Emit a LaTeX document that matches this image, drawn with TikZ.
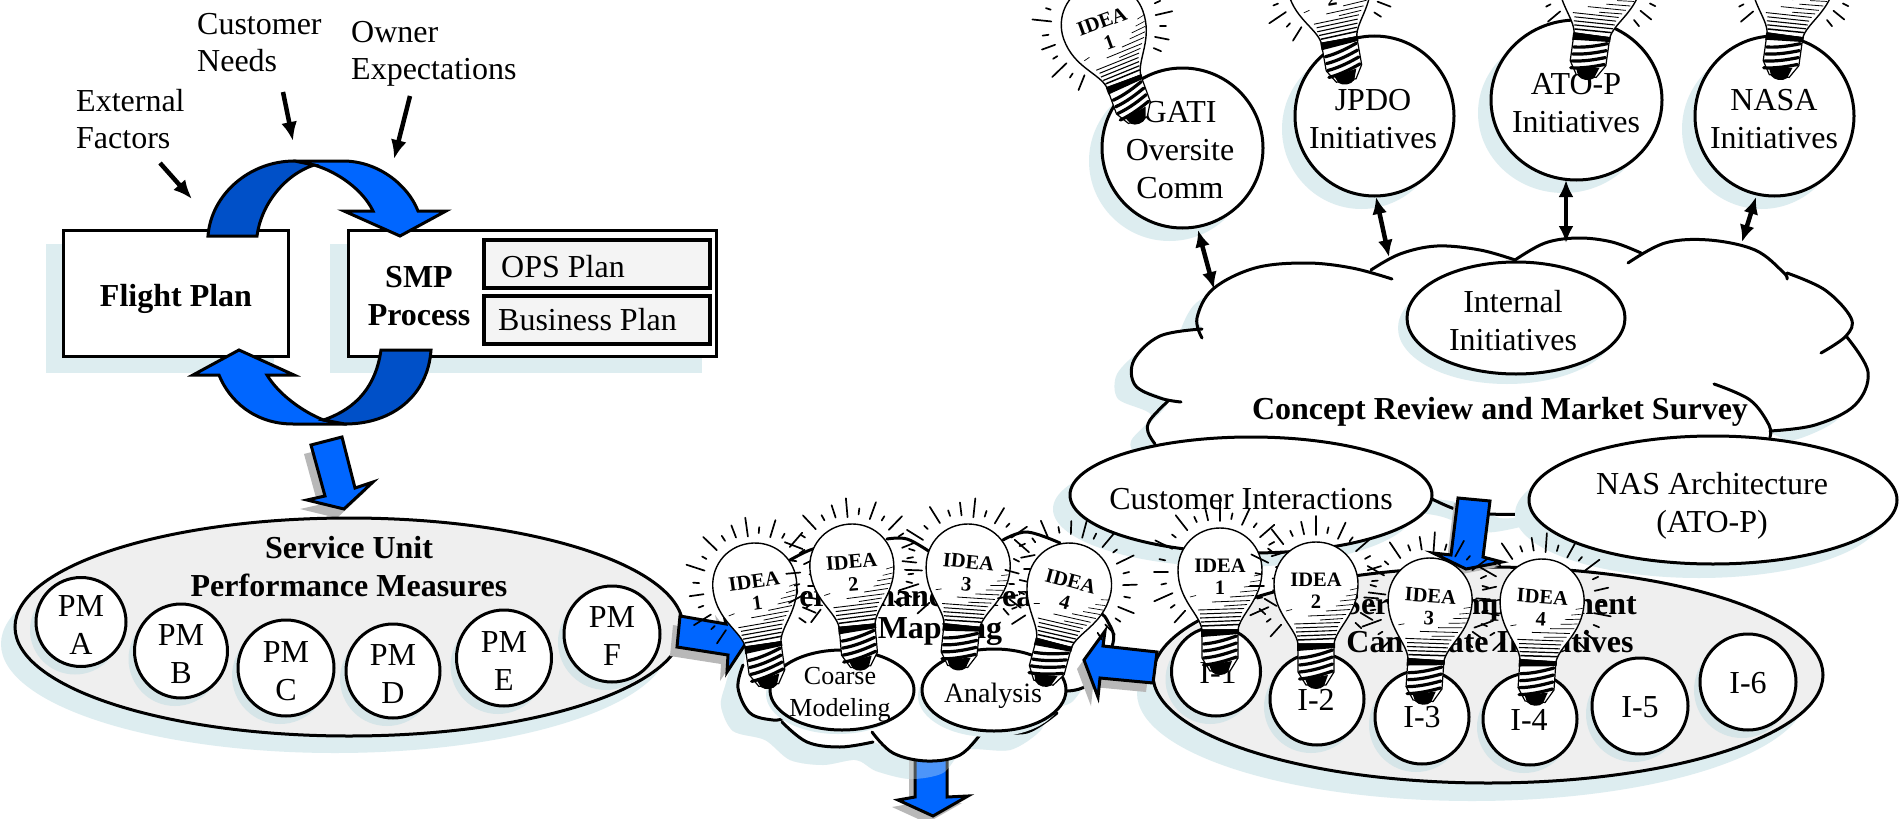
\documentclass[tikz,border=0pt]{standalone}
\usepackage{fontspec}
\setmainfont{Liberation Serif}
\usetikzlibrary{shapes.geometric,arrows.meta}
\definecolor{shadowc}{HTML}{DDEDF0}
\definecolor{shadowd}{HTML}{D6E5E8}
\definecolor{grayfill}{HTML}{EFEFEF}
\definecolor{planfill}{HTML}{F4F4F4}
\definecolor{brightb}{HTML}{0066FF}
\definecolor{darkb}{HTML}{0050C8}
\definecolor{arrowsh}{HTML}{B8B8B8}
\tikzset{
  ell/.style={ellipse,draw=black,line width=3pt,inner sep=0pt,outer sep=0pt},
  txt/.style={align=center,inner sep=0pt,font=\fontsize{32}{38}\selectfont},
  btxt/.style={align=center,inner sep=0pt,font=\fontsize{32}{38}\selectfont\bfseries},
  ltxt/.style={align=left,inner sep=0pt,anchor=west,font=\fontsize{32}{37}\selectfont},
  sbox/.style={draw=black,line width=3pt,fill=white},
  pbox/.style={draw=black,line width=3.5pt,fill=planfill},
  thin/.style={line width=4.5pt,-{Latex[length=19pt,width=16pt]}},
  both/.style={line width=4.5pt,{Latex[length=17pt,width=15pt]}-{Latex[length=17pt,width=15pt]}},
  cloudline/.style={line width=3pt,line cap=round},
  blue/.style={draw=black,line width=3pt,line join=miter,fill=brightb},
  dblue/.style={draw=black,line width=3pt,line join=miter,fill=darkb},
}
% name, x, y, rx, ry, shadow dx, shadow dy, fill, shadow colour
\newcommand\ellnode[9]{%
  \fill[#9,shift={(#6,#7)}] (#2,#3) ellipse [x radius=#4pt,y radius=#5pt];
  \node[ell,fill=#8,minimum width=2*#4,minimum height=2*#5] (#1) at (#2,#3) {};
}
% name, x, y, rotation, number
\newcommand\bulb[5]{%
  \begin{scope}[shift={(#2,#3)},rotate=#4,transform shape]
    \foreach \a/\r/\s in {-228/52/68,-216/56/61,-204/52/72,-192/55/60,-180/52/66,-168/56/62,-154/53/72,-142/56/61,-128/53/72,-115/55/61,-103/53/66,-90/51/70,-78/54/60,-65/52/70,-53/56/61,-41/53/72,-29/56/62,-17/54/68,-5/56/62,7/53/70,19/56/62,31/52/66,43/54/62}
      \draw[line width=1.7pt,line cap=round] (\a:\r) -- (\a:\s);
    \draw[line width=1.4pt,fill=white] (-18,58) .. controls (-20,42) and (-42,28) .. (-42,-2) .. controls (-42,-25) and (-24,-44) .. (0,-44) .. controls (24,-44) and (42,-25) .. (42,-2) .. controls (42,28) and (20,42) .. (18,58) -- cycle;
    \foreach \yy/\xa/\xb/\w in {4/34/41/.6,10/30/40/.6,15/24/39/.7,20/20/37/.7,25/10/34/.8,30/-8/30/.8,34/4/27/.8,38/-22/24/.9,42/-20/22/1,46/-20/21/1.1,50/-19/20/1.2,54/-18/19/1.5,25/-30/-24/.7}
      \draw[line width=\w pt] (\xa,\yy) -- (\xb,\yy-1.5);
    \draw[line width=1.2pt,fill=white] (-18,58) -- (18,58) -- (18,86) -- (10,99) -- (-10,99) -- (-18,86) -- cycle;
    \fill (-19,58) -- (19,57) -- (19,62) -- (-19,65) -- cycle;
    \foreach \yy in {68,75,82,89}
      \draw[line width=3.2pt,line cap=round] (-16.5,\yy+4) .. controls (-4,\yy+3) and (8,\yy-1) .. (16.5,\yy-4);
    \fill (-11,93) -- (12,89) -- (8,100) .. controls (4,104) and (-4,104) .. (-8,100) -- cycle;
    \node[inner sep=0pt,font=\fontsize{20.5}{24}\selectfont\bfseries] (#1-a) at (0,-6) {IDEA};
    \node[inner sep=0pt,font=\fontsize{20.5}{24}\selectfont\bfseries] (#1-b) at (0,16) {#5};
  \end{scope}
}
\newcommand\bigcloud{plot[smooth cycle,tension=.5] coordinates {(1213,289) (1255,268) (1306,263) (1362,272) (1400,254) (1437,246) (1480,250) (1515,260) (1545,243) (1578,238) (1612,242) (1641,253) (1665,243) (1709,240) (1755,250) (1787,274) (1825,290) (1850,315) (1846,336) (1868,372) (1855,405) (1815,425) (1770,431) (1770,450) (1533,514) (1487,514) (1432,499) (1200,500) (1155,444) (1148,427) (1168,401) (1135,385) (1134,360) (1160,336) (1200,329) (1197,318)}}
\newcommand\midcloud{plot[smooth cycle,tension=.5] coordinates {(790,560) (830,545) (887,539) (930,552) (1003,540) (1027,532) (1060,543) (1100,613) (1113,643) (1090,683) (1067,691) (1057,713) (1027,732) (982,732) (960,755) (927,761) (893,753) (873,742) (840,747) (807,742) (782,722) (750,713) (738,688) (743,665) (760,610)}}
\begin{document}
\begin{tikzpicture}[x=1pt,y=-1pt]
\useasboundingbox (0,0) rectangle (1899,819);
\fill[white] (0,0) rectangle (1899,819);
% ---- flight plan / SMP
\fill[shadowc] (46,244) rectangle (274,373);
\fill[shadowc] (330,244) rectangle (702,373);
\node[sbox,minimum width=224.5,minimum height=126,inner sep=0pt,outer sep=0pt] (flight) at (176,293) {};
\node[btxt] (flightt) at (176,299) {Flight Plan};
\node[sbox,minimum width=368,minimum height=126,inner sep=0pt,outer sep=0pt] (smp) at (532,293) {};
\node[btxt] (smpt) at (419,296) {SMP\\Process};
\node[pbox,minimum width=226,minimum height=48,inner sep=0pt,outer sep=0pt] (ops) at (597,264) {};
\node[ltxt] (opst) at (501,267) {OPS Plan};
\node[pbox,minimum width=226,minimum height=48,inner sep=0pt,outer sep=0pt] (biz) at (597,320) {};
\node[ltxt] (bizt) at (498,320) {Business Plan};
% curved arrows
\draw[blue] (293,161) -- (343,161) .. controls (378,161) and (408,185) .. (418,211) -- (446,211) -- (400,236) -- (344,211) -- (373,211) .. controls (363,190) and (338,172) .. (314,165) -- cycle;
\draw[dblue] (208,236) .. controls (211,195) and (249,161) .. (294.5,161) -- (314,165) .. controls (284,175) and (261,205) .. (257,236) -- cycle;
\draw[blue] (347,424) -- (293,424) .. controls (254,424) and (229,400) .. (219,375) -- (193,375) -- (239,350) -- (294,375) -- (267,375) .. controls (279,395) and (303.5,412) .. (323.5,420) -- cycle;
\draw[dblue] (381,350) -- (431,350) .. controls (428,395) and (393,424) .. (345,424) -- (323.5,420) .. controls (358,408) and (376,385) .. (381,350) -- cycle;
% labels
\node[ltxt] (ext) at (76,119) {External\\Factors};
\node[ltxt] (cust) at (197,43) {Customer\\Needs};
\node[ltxt] (own) at (351,54) {Owner\\Expectations};
\coordinate (ext1) at (160,163); \coordinate (ext2) at (192,199);
\coordinate (cus1) at (283,92); \coordinate (cus2) at (293,141);
\coordinate (own1) at (410,96); \coordinate (own2) at (394,159);
\draw[thin] (ext1) -- (ext2);
\draw[thin] (cus1) -- (cus2);
\draw[thin] (own1) -- (own2);
% arrow to service unit
\fill[arrowsh] (304,454) -- (335,446) -- (348,497) -- (366,491) -- (337,518) -- (300,509) -- (318,505) -- cycle;
\draw[blue] (311,445) -- (342,437) -- (355,488) -- (373,482) -- (344,509) -- (307,500) -- (325,496) -- cycle;
% ---- service unit
\ellnode{service}{349}{627}{334}{109}{-14}{17}{grayfill}{shadowc}
\node[btxt] (servicet) at (349,566.5) {Service Unit\\Performance Measures};
\ellnode{pma}{81}{622}{45}{44.5}{-6}{8}{white}{shadowd}
\node[txt] (pmat) at (81,625) {PM\\A};
\ellnode{pmb}{181}{651}{46.5}{47}{-6}{8}{white}{shadowd}
\node[txt] (pmbt) at (181,654) {PM\\B};
\ellnode{pmc}{286}{668}{48}{48}{-6}{8}{white}{shadowd}
\node[txt] (pmct) at (286,671) {PM\\C};
\ellnode{pmd}{393}{671}{47}{47}{-6}{8}{white}{shadowd}
\node[txt] (pmdt) at (393,674) {PM\\D};
\ellnode{pme}{504}{658}{47.5}{48}{-6}{8}{white}{shadowd}
\node[txt] (pmet) at (504,661) {PM\\E};
\ellnode{pmf}{612}{634}{48}{48}{-6}{8}{white}{shadowd}
\node[txt] (pmft) at (612,636) {PM\\F};
% ---- big cloud
\fill[shadowc,shift={(-17,14)}] \bigcloud;
\fill[white] \bigcloud;
\draw[cloudline] plot[smooth,tension=.6] coordinates {(1202,338) (1197,318) (1213,289) (1255,268) (1306,263) (1352,268) (1392,279)};
\draw[cloudline] plot[smooth,tension=.6] coordinates {(1371,270) (1400,254) (1437,246) (1480,250) (1515,260)};
\draw[cloudline] plot[smooth,tension=.6] coordinates {(1515,260) (1545,243) (1578,238) (1612,242) (1641,253)};
\draw[cloudline] plot[smooth,tension=.6] coordinates {(1628,263) (1665,243) (1709,240) (1755,250) (1783,272) (1787,279)};
\draw[cloudline] plot[smooth,tension=.6] coordinates {(1787,273) (1825,290) (1851,318) (1846,336) (1821,353)};
\draw[cloudline] plot[smooth,tension=.6] coordinates {(1846,336) (1868,372) (1855,405) (1815,425) (1770,431)};
\draw[cloudline] plot[smooth,tension=.6] coordinates {(1714,384) (1750,400) (1769,425) (1770,437)};
\draw[cloudline] plot[smooth,tension=.6] coordinates {(1202,329) (1160,336) (1134,360) (1135,385) (1160,398) (1181,402)};
\draw[cloudline] plot[smooth,tension=.6] coordinates {(1168,401) (1150,420) (1148,432) (1155,444)};
\draw[cloudline] plot[smooth,tension=.6] coordinates {(1432,499) (1458,510) (1487,514) (1533,514)};
\node[btxt] (concept) at (1500,412) {Concept Review and Market Survey};
\ellnode{internal}{1516}{318}{109}{56}{-9}{10}{white}{shadowc}
\node[txt] (internalt) at (1513,321) {Internal\\Initiatives};
\ellnode{gati}{1182.5}{148}{80.5}{80}{-13}{13}{white}{shadowc}
\node[txt] (gatit) at (1180,150) {GATI\\Oversite\\Comm};
\ellnode{jpdo}{1374.5}{116}{79.5}{80}{-13}{13}{white}{shadowc}
\node[txt] (jpdot) at (1373,119) {JPDO\\Initiatives};
\ellnode{atop}{1576.5}{100}{85.5}{80}{-13}{13}{white}{shadowc}
\node[txt] (atopt) at (1576,103) {ATO-P\\Initiatives};
\ellnode{nasa}{1774.5}{116}{79.5}{80}{-13}{13}{white}{shadowc}
\node[txt] (nasat) at (1774,119) {NASA\\Initiatives};
\coordinate (cg) at (1214,289); \coordinate (cj) at (1389,257);
\coordinate (ca) at (1566,243); \coordinate (cn) at (1742,242);
\coordinate (g0) at (1198,230); \coordinate (j0) at (1376,197);
\coordinate (a0) at (1566,180); \coordinate (n0) at (1756,197);
\draw[both] (g0) -- (cg);
\draw[both] (j0) -- (cj);
\draw[both] (a0) -- (ca);
\draw[both] (n0) -- (cn);
\ellnode{customer}{1251}{495}{181}{58}{-17}{14}{white}{shadowc}
\node[txt] (customert) at (1251,499) {Customer Interactions};
\ellnode{nas}{1713}{500}{184}{64}{-14}{14}{white}{shadowc}
\node[txt] (nast) at (1712,506) {NAS Architecture\\(ATO-P)};
% ---- candidate initiatives
\ellnode{cand}{1488}{675}{335}{108}{-16}{18}{grayfill}{shadowc}
\node[btxt] (candt) at (1490,622.5) {Service Improvement\\Candidate Initiatives};
\ellnode{ia}{1216}{671.5}{44.5}{44.5}{-6}{8}{white}{shadowd}
\node[txt] (iat) at (1218,673) {I-1};
\ellnode{ib}{1317}{699}{47}{46}{-6}{8}{white}{shadowd}
\node[txt] (ibt) at (1316,700) {I-2};
\ellnode{ic}{1422}{717}{47}{47}{-6}{8}{white}{shadowd}
\node[txt] (ict) at (1422,717) {I-3};
\ellnode{id}{1530}{719}{47}{46}{-6}{8}{white}{shadowd}
\node[txt] (idt) at (1529,720) {I-4};
\ellnode{ie}{1640}{706}{48}{48}{-6}{8}{white}{shadowd}
\node[txt] (iet) at (1640,707) {I-5};
\ellnode{if}{1748}{682}{48}{48}{-6}{8}{white}{shadowd}
\node[txt] (ift) at (1748,683) {I-6};
% arrow from big cloud to candidates
\fill[arrowsh] (1454,503) -- (1486,506) -- (1479,562) -- (1498,567) -- (1462,574) -- (1429,558) -- (1447,560) -- cycle;
\draw[blue] (1458,498) -- (1490,501) -- (1483,557) -- (1502,562) -- (1466,569) -- (1433,553) -- (1451,555) -- cycle;
% ---- middle cloud
\fill[shadowc,shift={(-17,18)}] \midcloud;
\fill[arrowsh] (909,752) -- (941,752) -- (941,804) -- (962,803) -- (927,823) -- (892,807) -- (909,804) -- cycle;
\draw[blue] (915,745) -- (947,745) -- (947,797) -- (968,796) -- (933,816) -- (898,800) -- (915,797) -- cycle;
\fill[shadowc,opacity=.35,shift={(-17,18)}] \midcloud;
\fill[white] \midcloud;
\draw[cloudline] plot[smooth,tension=.6] coordinates {(743,665) (738,688) (750,713) (773,720) (785,718)};
\draw[cloudline] plot[smooth,tension=.6] coordinates {(782,722) (807,742) (840,747) (873,742)};
\draw[cloudline] plot[smooth,tension=.6] coordinates {(872,732) (893,753) (927,761) (960,755) (982,732)};
\draw[cloudline] plot[smooth,tension=.6] coordinates {(993,731) (1027,732) (1057,713)};
\draw[cloudline] plot[smooth,tension=.6] coordinates {(1067,691) (1090,683) (1113,643) (1107,620) (1100,613)};
\draw[cloudline] plot[smooth,tension=.6] coordinates {(1003,540) (1027,532) (1060,543)};
\draw[cloudline] plot[smooth,tension=.6] coordinates {(887,539) (907,539) (930,552)};
\draw[cloudline] plot[smooth,tension=.6] coordinates {(790,560) (810,550) (830,545)};
\node[btxt] (perf) at (906,595) {Performance Area};
\node[btxt] (mapping) at (940,631) {Mapping};
\ellnode{coarse}{842}{690}{72}{40}{-4}{4}{white}{shadowc}
\ellnode{analysis}{994}{690}{72}{41}{-4}{6}{white}{shadowc}
% arrows into the middle cloud
\fill[arrowsh] (673,625) -- (719,633) -- (715,615) -- (741,649) -- (720,681) -- (721,664) -- (670,656) -- cycle;
\draw[blue] (680,616) -- (726,624) -- (722,606) -- (748,640) -- (727,672) -- (728,655) -- (677,647) -- cycle;
\fill[arrowsh] (1150,661) -- (1146,692) -- (1093,687) -- (1091,706) -- (1077,669) -- (1098,640) -- (1096,655) -- cycle;
\draw[blue] (1157,652) -- (1153,683) -- (1100,678) -- (1098,697) -- (1084,660) -- (1105,631) -- (1103,646) -- cycle;
% ---- bulbs
\bulb{ta}{1104}{27}{20}{1}
\bulb{tb}{1329}{-17}{10}{2}
\bulb{tc}{1600}{-22}{-8}{3}
\bulb{td}{1793}{-22}{-8}{4}
\bulb{ma}{755}{587}{8}{1}
\bulb{mb}{852}{568}{5}{2}
\bulb{mc}{968}{568}{-6}{3}
\bulb{md}{1069}{587}{-15}{4}
\bulb{ra}{1220}{572}{0}{1}
\bulb{rb}{1316}{586}{0}{2}
\bulb{rc}{1430}{602}{-4}{3}
\bulb{rd}{1542}{603}{-4}{4}
% texts over the bulbs
\node[align=center,inner sep=0pt,font=\fontsize{26}{32}\selectfont] (coarset) at (840,694.5) {Coarse\\Modeling};
\node[inner sep=0pt,font=\fontsize{28}{33}\selectfont] (analysist) at (993,696) {Analysis};
\end{tikzpicture}
\end{document}
